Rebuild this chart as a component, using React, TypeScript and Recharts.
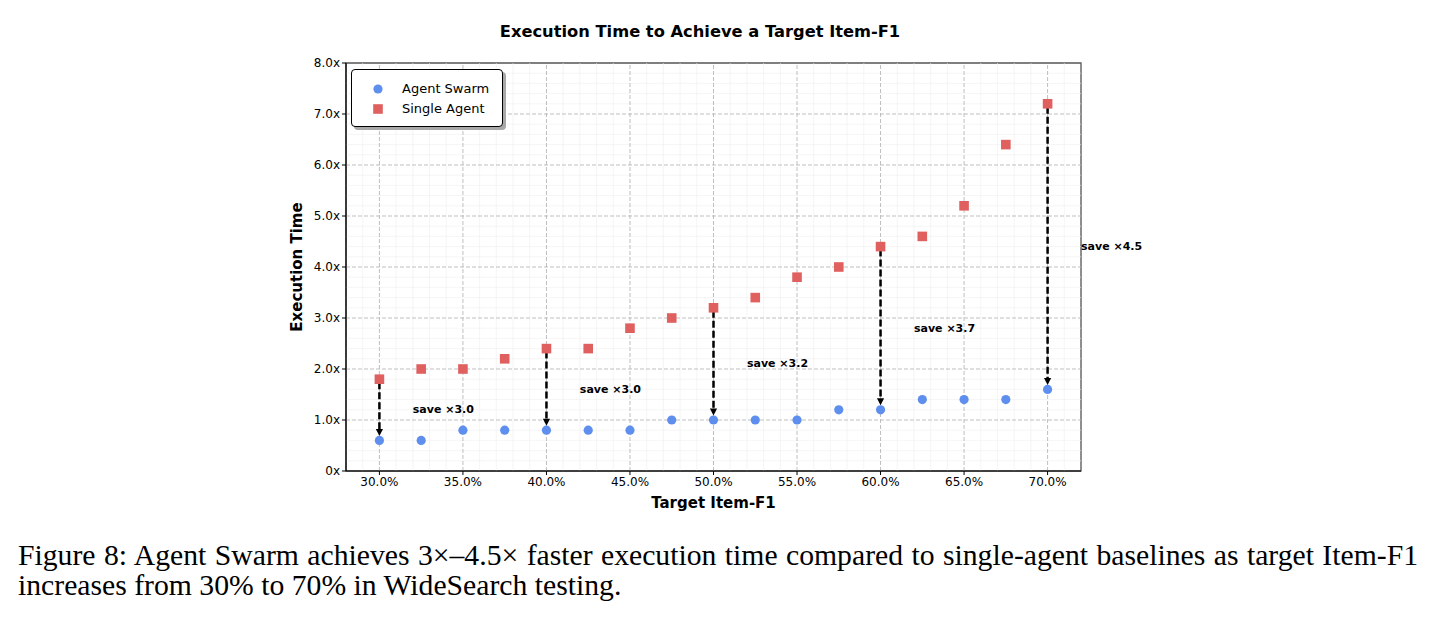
import React from 'react';
import {
  ScatterChart,
  Scatter,
  XAxis,
  YAxis,
  ReferenceLine,
  ReferenceDot,
  ReferenceArea,
  Legend,
} from 'recharts';

// Target Item-F1 (%) on the x axis
const targets = [30, 32.5, 35, 37.5, 40, 42.5, 45, 47.5, 50, 52.5, 55, 57.5, 60, 62.5, 65, 67.5, 70];
// Relative execution time (x) for each target
const swarmTime = [0.6, 0.6, 0.8, 0.8, 0.8, 0.8, 0.8, 1.0, 1.0, 1.0, 1.0, 1.2, 1.2, 1.4, 1.4, 1.4, 1.6];
const singleTime = [1.8, 2.0, 2.0, 2.2, 2.4, 2.4, 2.8, 3.0, 3.2, 3.4, 3.8, 4.0, 4.4, 4.6, 5.2, 6.4, 7.2];

const xTicks = [30, 35, 40, 45, 50, 55, 60, 65, 70];
const yTicks = [0, 1, 2, 3, 4, 5, 6, 7, 8];
// Targets where the speed-up is annotated
const savingTargets = [30, 40, 50, 60, 70];

const X_DOMAIN: [number, number] = [28, 72];
const Y_DOMAIN: [number, number] = [0, 8];

const BLUE = '#5F8FEE';
const RED = '#E06060';
const FONT = '"DejaVu Sans", sans-serif';

const swarmData = targets.map((t, i) => ({ f1: t, time: swarmTime[i] }));
const singleData = targets.map((t, i) => ({ f1: t, time: singleTime[i] }));

const savings = savingTargets.map((t) => {
  const i = targets.indexOf(t);
  const single = singleTime[i];
  const swarm = swarmTime[i];
  return { f1: t, single, swarm, mid: (single + swarm) / 2, ratio: (single / swarm).toFixed(1) };
});

// Minor grid: every 1% on x, every 0.2x on y
const xMinor: number[] = [];
for (let v = 28; v <= 72; v += 1) if (v % 5 !== 0) xMinor.push(v);
const yMinor: number[] = [];
for (let k = 1; k < 40; k += 1) if (k % 5 !== 0) yMinor.push(k / 5);

function SwarmDot(props: any) {
  const { cx, cy } = props;
  return <circle cx={cx} cy={cy} r={4.6} fill={BLUE} />;
}

function SingleSquare(props: any) {
  const { cx, cy } = props;
  return <rect x={cx - 4.8} y={cy - 4.8} width={9.6} height={9.6} fill={RED} />;
}

function SaveArrow(props: any) {
  const { x1, y1, y2 } = props;
  const top = Math.min(y1, y2);
  const bottom = Math.max(y1, y2);
  const tip = bottom - 4.5;
  const head = 7;
  return (
    <g>
      <line
        x1={x1}
        y1={top + 3}
        x2={x1}
        y2={tip - head + 1}
        stroke="#000"
        strokeWidth={2.5}
        strokeDasharray="7 3"
      />
      <polygon points={`${x1 - 3.6},${tip - head} ${x1 + 3.6},${tip - head} ${x1},${tip}`} fill="#000" />
    </g>
  );
}

function SaveText(text: string) {
  return (props: any) => (
    <text
      x={props.cx}
      y={props.cy}
      dominantBaseline="central"
      textAnchor="start"
      fontFamily={FONT}
      fontSize={11}
      fontWeight="bold"
      fill="#000"
    >
      {text}
    </text>
  );
}

function LegendBox(props: any) {
  const payload = props.payload || [];
  return (
    <div
      style={{
        width: 152,
        height: 58,
        boxSizing: 'border-box',
        border: '1px solid #000',
        borderRadius: 4,
        background: '#fff',
        boxShadow: '3px 3px 0 #a8a8a8',
        paddingTop: 9,
        fontFamily: FONT,
        fontSize: 13,
        color: '#000',
      }}
    >
      {payload.map((entry: any) => (
        <div key={entry.value} style={{ display: 'flex', alignItems: 'center', height: 20 }}>
          <svg width={50} height={20} style={{ display: 'block' }}>
            {entry.type === 'square' ? (
              <rect x={26 - 4.8} y={10 - 4.8} width={9.6} height={9.6} fill={entry.color} />
            ) : (
              <circle cx={26} cy={10} r={4.6} fill={entry.color} />
            )}
          </svg>
          <span style={{ lineHeight: '20px' }}>{entry.value}</span>
        </div>
      ))}
    </div>
  );
}

export default function App() {
  return (
    <div style={{ position: 'absolute', left: 0, top: 0, width: 1435, height: 618, background: '#fff' }}>
      <div
        style={{
          position: 'absolute',
          left: 0,
          width: 1400,
          top: 21,
          textAlign: 'center',
          fontFamily: FONT,
          fontWeight: 'bold',
          fontSize: 16.3,
          lineHeight: '22px',
          color: '#000',
        }}
      >
        Execution Time to Achieve a Target Item-F1
      </div>
      <ScatterChart width={1435} height={520} margin={{ top: 63, right: 354, bottom: 9, left: 286 }}>
        {xMinor.map((v) => (
          <ReferenceLine key={`xm${v}`} x={v} stroke="#efefef" strokeWidth={0.6} />
        ))}
        {yMinor.map((v) => (
          <ReferenceLine key={`ym${v}`} y={v} stroke="#efefef" strokeWidth={0.6} />
        ))}
        {xTicks.map((v) => (
          <ReferenceLine key={`xg${v}`} x={v} stroke="#b8b8b8" strokeWidth={0.9} strokeDasharray="4 2" />
        ))}
        {yTicks.slice(1, -1).map((v) => (
          <ReferenceLine key={`yg${v}`} y={v} stroke="#b8b8b8" strokeWidth={0.9} strokeDasharray="4 2" />
        ))}
        <XAxis
          type="number"
          dataKey="f1"
          domain={X_DOMAIN}
          ticks={xTicks}
          allowDataOverflow
          height={40}
          tickSize={4}
          tickLine={{ stroke: '#000' }}
          axisLine={{ stroke: '#000', strokeWidth: 1.2 }}
          tick={{ fill: '#000', fontSize: 12, fontFamily: FONT }}
          tickFormatter={(v: number) => `${v.toFixed(1)}%`}
          label={{
            content: (p: any) => {
              const vb = p.viewBox || {};
              return (
                <text
                  x={vb.x + vb.width / 2}
                  y={vb.y + 32}
                  textAnchor="middle"
                  dominantBaseline="central"
                  fontFamily={FONT}
                  fontSize={15}
                  fontWeight="bold"
                  fill="#000"
                >
                  Target Item-F1
                </text>
              );
            },
          }}
        />
        <YAxis
          type="number"
          dataKey="time"
          domain={Y_DOMAIN}
          ticks={yTicks}
          allowDataOverflow
          width={60}
          tickSize={4}
          tickLine={{ stroke: '#000' }}
          axisLine={{ stroke: '#000', strokeWidth: 1.2 }}
          tick={{ fill: '#000', fontSize: 12, fontFamily: FONT }}
          tickFormatter={(v: number) => (v === 0 ? '0x' : `${v.toFixed(1)}x`)}
          label={{
            content: (p: any) => {
              const vb = p.viewBox || {};
              const cx = vb.x + 11;
              const cy = vb.y + vb.height / 2;
              return (
                <text
                  x={cx}
                  y={cy}
                  transform={`rotate(-90 ${cx} ${cy})`}
                  textAnchor="middle"
                  dominantBaseline="central"
                  fontFamily={FONT}
                  fontSize={15}
                  fontWeight="bold"
                  fill="#000"
                >
                  Execution Time
                </text>
              );
            },
          }}
        />
        <ReferenceArea
          x1={X_DOMAIN[0]}
          x2={X_DOMAIN[1]}
          y1={Y_DOMAIN[0]}
          y2={Y_DOMAIN[1]}
          fill="none"
          fillOpacity={0}
          stroke="#000"
          strokeWidth={1.2}
          ifOverflow="visible"
        />
        <Legend
          layout="vertical"
          align="center"
          verticalAlign="middle"
          content={<LegendBox />}
          wrapperStyle={{ left: 351, top: 69, width: 152, height: 58 }}
        />
        <Scatter
          name="Agent Swarm"
          data={swarmData}
          fill={BLUE}
          legendType="circle"
          shape={<SwarmDot />}
          isAnimationActive={false}
        />
        <Scatter
          name="Single Agent"
          data={singleData}
          fill={RED}
          legendType="square"
          shape={<SingleSquare />}
          isAnimationActive={false}
        />
        {savings.map((s) => (
          <ReferenceLine
            key={`arrow${s.f1}`}
            segment={[
              { x: s.f1, y: s.single },
              { x: s.f1, y: s.swarm },
            ]}
            ifOverflow="visible"
            shape={SaveArrow}
          />
        ))}
        {savings.map((s) => (
          <ReferenceDot
            key={`save${s.f1}`}
            x={s.f1 + 2}
            y={s.mid}
            r={1}
            ifOverflow="visible"
            shape={SaveText(`save ×${s.ratio}`)}
          />
        ))}
      </ScatterChart>
      <div
        style={{
          position: 'absolute',
          left: 18,
          top: 540,
          width: 1400,
          fontFamily: '"Liberation Serif", "Times New Roman", serif',
          fontSize: 29.7,
          lineHeight: '30px',
          color: '#000',
        }}
      >
        <div style={{ textAlign: 'justify', textAlignLast: 'justify', whiteSpace: 'nowrap' as any }}>
          Figure 8: Agent Swarm achieves 3×–4.5× faster execution time compared to single-agent baselines as target Item-F1
        </div>
        <div>increases from 30% to 70% in WideSearch testing.</div>
      </div>
    </div>
  );
}
